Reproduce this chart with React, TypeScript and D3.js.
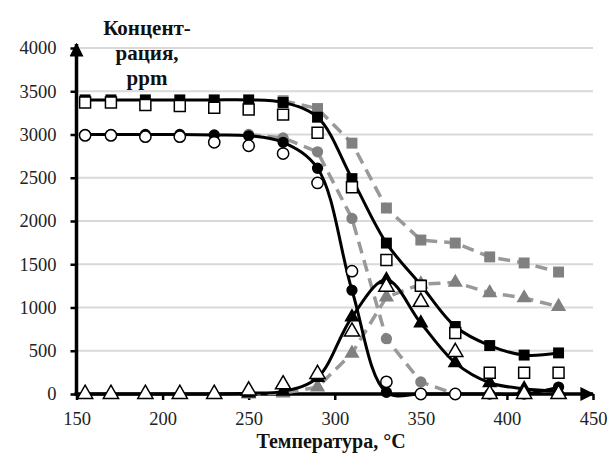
import React, { useRef, useEffect } from 'react';
import * as d3 from 'd3';

// temperature points, °C
const TEMPS = [155, 170, 190, 210, 230, 250, 270, 290, 310, 330, 350, 370, 390, 410, 430];

// black solid series (filled markers)
const SQ_FILLED = [3400, 3400, 3400, 3400, 3400, 3400, 3370, 3200, 2490, 1745, 1260, 780, 560, 450, 475];
const CIRC_FILLED = [3000, 3000, 3000, 3000, 2995, 2985, 2910, 2610, 1200, 20, 0, 0, 0, 0, 80];
const TRI_FILLED = [0, 0, 0, 0, 0, 10, 30, 190, 890, 1320, 820, 360, 130, 60, 30];

// open markers, no line
const SQ_OPEN = [3370, 3370, 3340, 3330, 3310, 3290, 3230, 3020, 2390, 1550, 1250, 705, 245, 245, 245];
const CIRC_OPEN = [2990, 2990, 2975, 2975, 2910, 2870, 2780, 2440, 1420, 140, 0, 0, null, null, null];
const TRI_OPEN = [0, 0, 0, 0, 0, 40, 110, 230, 720, 1240, 1065, 485, 0, 0, 0];

// grey dashed series
const SQ_GREY = [null, null, null, null, null, null, 3390, 3300, 2900, 2150, 1780, 1745, 1585, 1515, 1410];
const CIRC_GREY = [null, null, null, null, null, 3000, 2960, 2800, 2030, 640, 140, 0, null, null, null];
const TRI_GREY = [null, null, null, null, null, 0, 10, 80, 470, 1120, 1270, 1290, 1170, 1110, 1010];

const Y_TICKS = [0, 500, 1000, 1500, 2000, 2500, 3000, 3500, 4000];
const X_TICKS = [150, 200, 250, 300, 350, 400, 450];
const TITLE_LINES = ['Концент-', 'рация,', 'ppm'];
const X_LABEL = 'Температура, °C';

const GREY = '#808080';
const FONT = '"Liberation Serif", "Times New Roman", serif';

export default function App() {
  const svgRef = useRef<SVGSVGElement>(null);

  useEffect(() => {
    const width = 613;
    const height = 453;
    const svg = d3.select(svgRef.current).attr('width', width).attr('height', height);
    svg.selectAll('*').remove();

    const x = d3.scaleLinear().domain([150, 450]).range([76.5, 593]);
    const y = d3.scaleLinear().domain([0, 4000]).range([394, 48]);

    svg.append('rect').attr('width', width).attr('height', height).attr('fill', '#fff');

    // gridlines
    svg.append('g')
      .selectAll('line')
      .data(Y_TICKS.filter((d) => d > 0))
      .join('line')
      .attr('x1', x(150))
      .attr('x2', x(450))
      .attr('y1', (d) => y(d))
      .attr('y2', (d) => y(d))
      .attr('stroke', '#d9d9d9')
      .attr('stroke-width', 2);

    // axes
    const yAxis = svg.append('g')
      .attr('transform', `translate(${x(150)},0)`)
      .call(d3.axisLeft(y).tickValues(Y_TICKS).tickSize(6).tickPadding(14).tickFormat(d3.format('d')));
    yAxis.attr('font-family', null).attr('font-size', null);
    yAxis.select('.domain').remove();
    yAxis.selectAll('line').attr('stroke', '#000').attr('stroke-width', 2.5);
    yAxis.selectAll('text')
      .style('font-family', FONT)
      .style('font-size', '18.5px')
      .attr('fill', '#222');

    const xAxis = svg.append('g')
      .attr('transform', `translate(0,${y(0)})`)
      .call(d3.axisBottom(x).tickValues(X_TICKS).tickSize(6).tickPadding(12).tickFormat(d3.format('d')));
    xAxis.attr('font-family', null).attr('font-size', null);
    xAxis.select('.domain').remove();
    xAxis.selectAll('line').attr('stroke', '#000').attr('stroke-width', 2.5);
    xAxis.selectAll('text')
      .style('font-family', FONT)
      .style('font-size', '18.5px')
      .attr('fill', '#222');

    // axis lines with arrows
    const defs = svg.append('defs');
    defs.append('marker')
      .attr('id', 'arrow')
      .attr('viewBox', '0 0 10 10')
      .attr('refX', 9)
      .attr('refY', 5)
      .attr('markerWidth', 4)
      .attr('markerHeight', 4)
      .attr('markerUnits', 'strokeWidth')
      .attr('orient', 'auto')
      .append('path')
      .attr('d', 'M0,0 L10,5 L0,10 z')
      .attr('fill', '#000');

    svg.append('line')
      .attr('x1', x(150)).attr('x2', x(150))
      .attr('y1', y(0) + 2).attr('y2', y(4000) - 4)
      .attr('stroke', '#000').attr('stroke-width', 3.5)
      .attr('marker-end', 'url(#arrow)');
    svg.append('line')
      .attr('x1', x(150) - 2).attr('x2', x(450))
      .attr('y1', y(0)).attr('y2', y(0))
      .attr('stroke', '#000').attr('stroke-width', 3.5)
      .attr('marker-end', 'url(#arrow)');

    const pts = (vals: (number | null)[]) =>
      TEMPS.map((t, i) => ({ t, v: vals[i] })).filter((d) => d.v !== null) as { t: number; v: number }[];

    const linear = d3.line<{ t: number; v: number }>().x((d) => x(d.t)).y((d) => y(d.v));
    const smooth = d3.line<{ t: number; v: number }>()
      .x((d) => x(d.t))
      .y((d) => y(d.v))
      .curve(d3.curveCatmullRom.alpha(0.5));

    const symSq = d3.symbol().type(d3.symbolSquare).size(120);
    const symCirc = d3.symbol().type(d3.symbolCircle).size(100);
    const symTri = d3.symbol().type(d3.symbolTriangle).size(100);

    const drawMarkers = (vals: (number | null)[], sym: any, fill: string, stroke: string, sw: number) => {
      svg.append('g')
        .selectAll('path')
        .data(pts(vals))
        .join('path')
        .attr('transform', (d) => `translate(${x(d.t)},${y(d.v)})`)
        .attr('d', sym())
        .attr('fill', fill)
        .attr('stroke', stroke)
        .attr('stroke-width', sw);
    };

    // grey dashed series
    [SQ_GREY, CIRC_GREY, TRI_GREY].forEach((vals) => {
      svg.append('path')
        .attr('d', linear(pts(vals)))
        .attr('fill', 'none')
        .attr('stroke', '#999')
        .attr('stroke-width', 3.5)
        .attr('stroke-dasharray', '12,7');
    });
    drawMarkers(SQ_GREY, symSq, GREY, 'none', 0);
    drawMarkers(CIRC_GREY, symCirc, GREY, 'none', 0);
    drawMarkers(TRI_GREY, symTri, GREY, 'none', 0);

    // black solid series
    [SQ_FILLED, CIRC_FILLED, TRI_FILLED].forEach((vals) => {
      svg.append('path')
        .attr('d', smooth(pts(vals)))
        .attr('fill', 'none')
        .attr('stroke', '#000')
        .attr('stroke-width', 3);
    });
    drawMarkers(SQ_FILLED, symSq, '#000', 'none', 0);
    drawMarkers(CIRC_FILLED, symCirc, '#000', 'none', 0);
    drawMarkers(TRI_FILLED, symTri, '#000', 'none', 0);

    // open markers
    drawMarkers(SQ_OPEN, symSq, '#fff', '#000', 1.5);
    drawMarkers(CIRC_OPEN, symCirc, '#fff', '#000', 1.5);
    drawMarkers(TRI_OPEN, symTri, '#fff', '#000', 1.5);

    // titles
    svg.append('g')
      .selectAll('text')
      .data(TITLE_LINES)
      .join('text')
      .attr('x', 147)
      .attr('y', (_, i) => 35 + i * 25)
      .attr('text-anchor', 'middle')
      .style('font-family', FONT)
      .attr('font-weight', 'bold')
      .attr('font-size', 21)
      .attr('fill', '#111')
      .text((d) => d);

    svg.append('text')
      .attr('x', 331)
      .attr('y', 448)
      .attr('text-anchor', 'middle')
      .style('font-family', FONT)
      .attr('font-weight', 'bold')
      .attr('font-size', 20)
      .attr('fill', '#111')
      .text(X_LABEL);
  }, []);

  return (
    <div style={{ position: 'absolute', left: 0, top: 0 }}>
      <svg ref={svgRef} style={{ display: 'block' }} />
    </div>
  );
}
